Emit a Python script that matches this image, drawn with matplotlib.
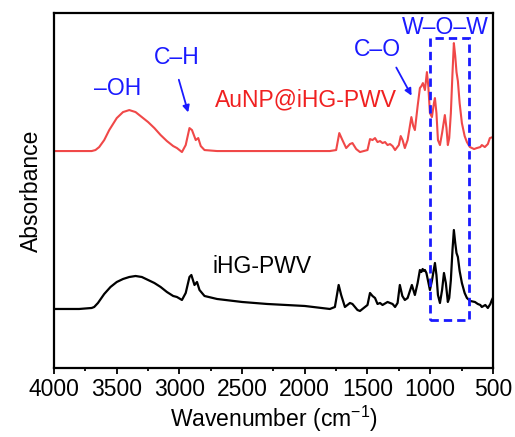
import matplotlib
matplotlib.use('Agg')
import matplotlib.pyplot as plt
from matplotlib.patches import Rectangle
from matplotlib.ticker import MultipleLocator
import numpy as np

plt.rcParams['font.family'] = ['Liberation Sans', 'DejaVu Sans']
plt.rcParams['mathtext.fontset'] = 'custom'
plt.rcParams['mathtext.rm'] = 'Liberation Sans'
plt.rcParams['mathtext.it'] = 'Liberation Sans'

# FTIR spectra, absorbance in arbitrary units (offset stacked)
wn_au = [4000, 3700, 3670, 3640, 3600, 3560, 3500, 3450, 3400, 3350, 3300, 3250, 3200, 3150,
         3100, 3050, 3020, 2980, 2950, 2920, 2900, 2870, 2850, 2830, 2800, 2700, 1800, 1750,
         1725, 1700, 1670, 1640, 1620, 1590, 1560, 1500, 1480, 1460, 1440, 1420, 1400, 1380,
         1360, 1340, 1320, 1300, 1280, 1250, 1235, 1220, 1202, 1180, 1150, 1135, 1122, 1100,
         1082, 1070, 1058, 1042, 1026, 1015, 1002, 986, 970, 962, 950, 938, 922, 905, 883,
         870, 859, 848, 835, 822, 811, 800, 790, 779, 765, 747, 725, 707, 683, 650, 628, 600,
         588, 564, 540, 524, 500]
abs_au = [217, 217, 218, 221, 228, 238, 250, 256, 258, 256, 251, 246, 240, 233,
          227, 222, 220, 216, 223, 240, 238, 228, 230, 222, 218, 217, 217, 218,
          235, 228, 220, 224, 225, 219, 216, 218, 229, 228, 230, 226, 227, 225,
          226, 223, 224, 222, 218, 223, 232, 228, 220, 228, 251, 242, 238, 262,
          280, 282, 285, 278, 296, 282, 255, 251, 265, 270, 255, 228, 223, 235, 253,
          240, 223, 230, 255, 295, 325, 312, 296, 287, 265, 245, 232, 226, 221, 219, 220, 221,
          223, 221, 224, 230, 231]

wn_ihg = [4000, 3800, 3700, 3680, 3650, 3600, 3550, 3500, 3450, 3400, 3350, 3300, 3250, 3200,
          3150, 3100, 3050, 3020, 2980, 2950, 2920, 2905, 2880, 2860, 2840, 2800, 2700, 2500,
          2300, 2000, 1800, 1760, 1730, 1710, 1680, 1640, 1620, 1580, 1560, 1500, 1480, 1460,
          1440, 1420, 1400, 1380, 1340, 1300, 1280, 1260, 1242, 1222, 1202, 1180, 1146, 1122,
          1100, 1082, 1070, 1060, 1050, 1042, 1030, 1015, 1002, 985, 962, 950, 938, 922, 905,
          890, 875, 859, 848, 835, 822, 811, 800, 790, 779, 765, 747, 725, 707, 680, 643, 620,
          600, 588, 560, 540, 520, 508, 500]
abs_ihg = [59, 59, 60, 61, 65, 74, 81, 86, 89, 91, 92, 91, 88, 85,
           81, 76, 72, 71, 68, 75, 91, 93, 83, 86, 78, 72, 69, 66,
           64, 62, 59, 61, 83, 73, 61, 65, 64, 58, 57, 63, 75, 72,
           70, 64, 65, 63, 66, 64, 61, 65, 83, 72, 68, 70, 83, 73,
           85, 98, 96, 99, 97, 98, 95, 86, 78, 88, 105, 93, 73, 65, 78,
           95, 85, 66, 70, 88, 118, 138, 125, 115, 111, 97, 85, 75, 70, 67, 66, 64,
           63, 61, 63, 60, 64, 68, 70]

fig = plt.figure(figsize=(5.15, 4.37), dpi=100)
ax = fig.add_axes([0.105, 0.158, 0.852, 0.812])

ax.plot(wn_au, abs_au, color='#f04848', lw=1.5)
ax.plot(wn_ihg, abs_ihg, color='black', lw=1.6)

# W-O-W region box
ax.add_patch(Rectangle((1000, 48), -310, 282, fill=False, edgecolor='#1a1aff',
                       lw=2, linestyle=(0, (3, 1.8)), zorder=3))

blue = '#1a1aff'
fs = 16.5
ax.text(3490, 280, '\u2013OH', color=blue, fontsize=fs, ha='center', va='center')
ax.text(3019, 311, 'C\u2013H', color=blue, fontsize=fs, ha='center', va='center')
ax.annotate('', xy=(2924, 253), xytext=(3011, 291),
            arrowprops=dict(arrowstyle='-|>', color=blue, lw=1.3, mutation_scale=10))
ax.text(1417, 319, 'C\u2013O', color=blue, fontsize=fs, ha='center', va='center')
ax.annotate('', xy=(1138, 270), xytext=(1281, 303),
            arrowprops=dict(arrowstyle='-|>', color=blue, lw=1.3, mutation_scale=10))
ax.text(875, 341, 'W\u2013O\u2013W', color=blue, fontsize=fs, ha='center', va='center')
ax.text(1991, 268, 'AuNP@iHG-PWV', color='#f02020', fontsize=fs, ha='center', va='center')
ax.text(2338, 101, 'iHG-PWV', color='black', fontsize=fs, ha='center', va='center')

ax.set_xlim(4000, 500)
ax.set_ylim(0, 355)
ax.xaxis.set_major_locator(MultipleLocator(500))
ax.xaxis.set_minor_locator(MultipleLocator(250))
ax.set_yticks([])
ax.tick_params(axis='x', which='major', direction='out', length=4, width=1.3, labelsize=fs, pad=3)
ax.tick_params(axis='x', which='minor', direction='out', length=2, width=1.3)
for s in ax.spines.values():
    s.set_linewidth(1.6)

ax.set_xlabel('Wavenumber (cm$^{\u2212 1}$)', fontsize=fs, labelpad=2)
ax.set_ylabel('Absorbance', fontsize=fs, labelpad=8)

fig.savefig('out.png', dpi=100)
